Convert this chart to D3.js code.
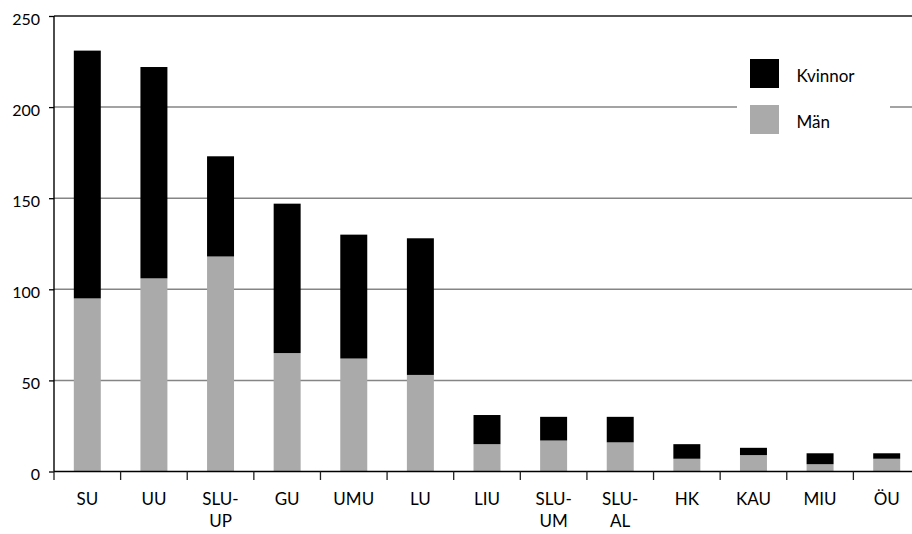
<!DOCTYPE html>
<html>
<head>
<meta charset="utf-8">
<script src="https://cdn.jsdelivr.net/npm/d3@7"></script>
<style>
  html, body { margin: 0; padding: 0; background: #fff; }
  svg { display: block; font-family: Lato, "Open Sans", sans-serif; }
</style>
</head>
<body>
<svg id="chart" width="912" height="534"></svg>
<script>
// Universities (category axis)
const categories = ["SU", "UU", "SLU-UP", "GU", "UMU", "LU", "LIU", "SLU-UM", "SLU-AL", "HK", "KAU", "MIU", "ÖU"];
// Men per university (lower segment)
const man = [95, 106, 118, 65, 62, 53, 15, 17, 16, 7, 9, 4, 7];
// Women per university (upper segment)
const kvinnor = [136, 116, 55, 82, 68, 75, 16, 13, 14, 8, 4, 6, 3];
// Value axis ticks
const yTicks = [0, 50, 100, 150, 200, 250];
// Legend entries, top to bottom
const seriesNames = ["Kvinnor", "Män"];

const svg = d3.select("#chart");
const plotLeft = 54, plotRight = 920, plotTop = 16, plotBottom = 471.5;

const rows = categories.map((c, i) => ({ cat: c, "Män": man[i], "Kvinnor": kvinnor[i] }));
const stack = d3.stack().keys(["Män", "Kvinnor"])(rows);

const color = d3.scaleOrdinal().domain(["Män", "Kvinnor"]).range(["#aaaaaa", "#000000"]);

const x = d3.scaleBand().domain(categories).range([plotLeft, plotRight])
  .paddingInner(0.595).paddingOuter(0.2975);
const y = d3.scaleLinear().domain([0, 250]).range([plotBottom, plotTop]);

// horizontal grid lines
svg.append("g").selectAll("line").data(yTicks.filter(t => t > 0 && t < 250)).join("line")
  .attr("x1", plotLeft).attr("x2", plotRight)
  .attr("y1", d => y(d)).attr("y2", d => y(d))
  .attr("stroke", "#858585").attr("stroke-width", 1.5);

// top frame line
svg.append("line").attr("x1", plotLeft).attr("x2", plotRight)
  .attr("y1", y(250)).attr("y2", y(250))
  .attr("stroke", "#1a1a1a").attr("stroke-width", 1.5);

// stacked bars
svg.append("g").selectAll("g").data(stack).join("g")
  .attr("fill", d => color(d.key))
  .selectAll("rect").data(d => d).join("rect")
  .attr("x", d => x(d.data.cat))
  .attr("width", x.bandwidth())
  .attr("y", d => y(d[1]))
  .attr("height", d => y(d[0]) - y(d[1]));

// y axis
const yAxis = d3.axisLeft(y).tickValues(yTicks).tickSize(5).tickPadding(9);
const gy = svg.append("g").attr("transform", `translate(${plotLeft},0)`).call(yAxis);
gy.select(".domain").attr("stroke", "#000").attr("stroke-width", 1.4).attr("d", `M0,${plotTop}V${plotBottom}`);
gy.selectAll(".tick line").attr("stroke", "#000").attr("stroke-width", 1.3);
gy.selectAll(".tick text").attr("font-size", 16).attr("fill", "#000")
  .attr("font-family", "Lato, sans-serif").attr("dy", "0.32em").attr("y", 3);

// x axis baseline and category separator ticks
const step = x.step();
const boundaries = categories.map(c => x(c) - (step - x.bandwidth()) / 2);
boundaries.push(boundaries[boundaries.length - 1] + step);
const gx = svg.append("g");
gx.append("line").attr("x1", plotLeft).attr("x2", plotRight)
  .attr("y1", plotBottom).attr("y2", plotBottom)
  .attr("stroke", "#000").attr("stroke-width", 1.4);
gx.selectAll("line.sep").data(boundaries).join("line").attr("class", "sep")
  .attr("x1", d => d).attr("x2", d => d)
  .attr("y1", plotBottom).attr("y2", plotBottom + 8.5)
  .attr("stroke", "#222").attr("stroke-width", 1.3);

// category labels, wrapped after the hyphen
const labels = gx.selectAll("text.cat").data(categories).join("text").attr("class", "cat")
  .attr("x", d => x(d) + x.bandwidth() / 2)
  .attr("y", plotBottom + 33.5)
  .attr("text-anchor", "middle")
  .attr("font-size", 17).attr("fill", "#000");
labels.each(function(d) {
  const parts = d.replace("-", "-\n").split("\n");
  const t = d3.select(this);
  parts.forEach((p, i) => {
    t.append("tspan").attr("x", x(d) + x.bandwidth() / 2).attr("dy", i === 0 ? 0 : 21.7).text(p);
  });
});

// legend
const lg = svg.append("g");
lg.append("rect").attr("x", 737).attr("y", 40).attr("width", 153).attr("height", 112).attr("fill", "#fff");
const items = lg.selectAll("g.item").data(seriesNames).join("g").attr("class", "item")
  .attr("transform", (d, i) => `translate(750,${59 + i * 46})`);
items.append("rect").attr("width", 29).attr("height", 29).attr("fill", d => color(d));
items.append("text").attr("x", 46.5).attr("y", 22.7)
  .attr("font-size", 17).attr("fill", "#000").text(d => d);
</script>
</body>
</html>
